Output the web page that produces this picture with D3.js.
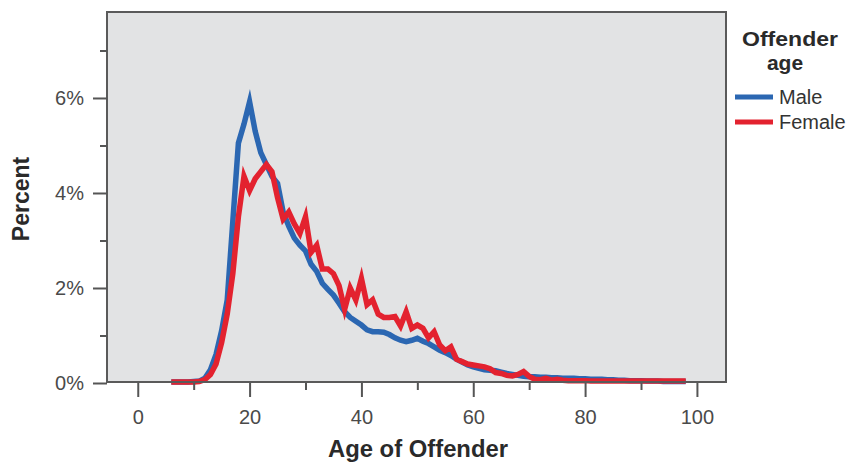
<!DOCTYPE html>
<html>
<head>
<meta charset="utf-8">
<script src="https://cdn.jsdelivr.net/npm/d3@7"></script>
<style>
  html, body { margin: 0; padding: 0; background: #fff; }
  svg { display: block; font-family: "Liberation Sans", Arial, sans-serif; }
</style>
</head>
<body>
<svg id="chart" width="848" height="463"></svg>
<script>
// Ages of offenders (years)
const ages = d3.range(6, 99);

// Percent of male offenders at each age
const maleValues = [
  0.02, 0.02, 0.02, 0.02, 0.03, 0.04,            // 6-11
  0.10, 0.28, 0.60, 1.10, 1.75, 3.40, 5.05, 5.45, // 12-19
  5.92, 5.30, 4.85, 4.60, 4.35, 4.20, 3.60, 3.30, 3.05, 2.90, // 20-29
  2.78, 2.50, 2.35, 2.10, 1.97, 1.85, 1.68, 1.50, 1.38, 1.30, // 30-39
  1.22, 1.12, 1.08, 1.08, 1.07, 1.02, 0.95, 0.90, 0.87, 0.90, // 40-49
  0.94, 0.88, 0.83, 0.76, 0.69, 0.64, 0.58, 0.50, 0.44, 0.38, // 50-59
  0.34, 0.31, 0.28, 0.27, 0.26, 0.23, 0.20, 0.18, 0.16, 0.14, // 60-69
  0.13, 0.13, 0.12, 0.12, 0.11, 0.11, 0.10, 0.10, 0.10, 0.09, // 70-79
  0.09, 0.08, 0.08, 0.08, 0.07, 0.07, 0.06, 0.06, 0.05, 0.05, // 80-89
  0.05, 0.04, 0.04, 0.04, 0.03, 0.03, 0.03, 0.03, 0.03        // 90-98
];

// Percent of female offenders at each age
const femaleValues = [
  0.02, 0.02, 0.02, 0.02, 0.02, 0.03,            // 6-11
  0.07, 0.18, 0.40, 0.85, 1.45, 2.30, 3.50, 4.35, // 12-19
  4.05, 4.30, 4.45, 4.60, 4.45, 3.90, 3.45, 3.60, 3.35, 3.15, // 20-29
  3.50, 2.75, 2.90, 2.40, 2.40, 2.30, 2.05, 1.55, 2.00, 1.75, // 30-39
  2.20, 1.65, 1.75, 1.45, 1.38, 1.38, 1.40, 1.20, 1.50, 1.15, // 40-49
  1.22, 1.15, 0.95, 1.08, 0.80, 0.68, 0.76, 0.50, 0.45, 0.40, // 50-59
  0.38, 0.36, 0.34, 0.30, 0.22, 0.20, 0.16, 0.15, 0.18, 0.24, // 60-69
  0.14, 0.08, 0.07, 0.10, 0.06, 0.08, 0.06, 0.05, 0.05, 0.05, // 70-79
  0.05, 0.04, 0.04, 0.04, 0.04, 0.04, 0.04, 0.04, 0.04, 0.04, // 80-89
  0.04, 0.04, 0.04, 0.04, 0.04, 0.04, 0.04, 0.04, 0.04        // 90-98
];

const xTicks = [0, 20, 40, 60, 80, 100];
const xMinorTicks = [10, 30, 50, 70, 90];
const yTicks = [0, 2, 4, 6];
const yMinorTicks = [1, 3, 5, 7];

const seriesNames = ["Male", "Female"];
const seriesColors = ["#2b67b2", "#e3222f"];

const svg = d3.select("#chart");

const plot = { left: 107, right: 726, top: 12, bottom: 383 };

const x = d3.scaleLinear().domain([-5.5, 105.2]).range([plot.left, plot.right]);
const y = d3.scaleLinear().domain([0, 7.81]).range([plot.bottom, plot.top]);

// Plot background
svg.append("rect")
  .attr("x", plot.left).attr("y", plot.top)
  .attr("width", plot.right - plot.left).attr("height", plot.bottom - plot.top)
  .attr("fill", "#e2e3e4");

// Series lines
const line = d3.line()
  .x(d => x(d.age))
  .y(d => y(d.value));

const series = [maleValues, femaleValues].map((vals, i) => ({
  name: seriesNames[i],
  color: seriesColors[i],
  points: ages.map((a, j) => ({ age: a, value: vals[j] }))
}));

svg.append("g").selectAll("path")
  .data(series)
  .join("path")
  .attr("d", d => line(d.points))
  .attr("fill", "none")
  .attr("stroke", d => d.color)
  .attr("stroke-width", 5.5)
  .attr("stroke-linejoin", "miter")
  .attr("stroke-miterlimit", 10);

// Frame around plot
svg.append("rect")
  .attr("x", plot.left).attr("y", plot.top)
  .attr("width", plot.right - plot.left).attr("height", plot.bottom - plot.top - 1)
  .attr("fill", "none")
  .attr("stroke", "#5a5a5a")
  .attr("stroke-width", 2);

const tickColor = "#555";
const labelColor = "#4a4a4a";

// Y axis
const yAxis = svg.append("g")
  .attr("transform", `translate(${plot.left},0)`)
  .call(d3.axisLeft(y).tickValues(yTicks).tickSize(14).tickPadding(9)
    .tickFormat(d => d + "%"));
yAxis.select(".domain").remove();
yAxis.selectAll(".tick line").attr("stroke", tickColor).attr("stroke-width", 2);
yAxis.selectAll(".tick text")
  .attr("fill", labelColor)
  .attr("font-size", 20)
  .attr("font-family", "Liberation Sans, Arial, sans-serif");

const yMinor = svg.append("g")
  .attr("transform", `translate(${plot.left},0)`)
  .call(d3.axisLeft(y).tickValues(yMinorTicks).tickSize(7).tickFormat(""));
yMinor.select(".domain").remove();
yMinor.selectAll(".tick line").attr("stroke", tickColor).attr("stroke-width", 2);

// X axis
const xAxis = svg.append("g")
  .attr("transform", `translate(0,${plot.bottom})`)
  .call(d3.axisBottom(x).tickValues(xTicks).tickSize(14).tickPadding(13));
xAxis.select(".domain").remove();
xAxis.selectAll(".tick line").attr("stroke", tickColor).attr("stroke-width", 2);
xAxis.selectAll(".tick text")
  .attr("fill", labelColor)
  .attr("font-size", 20)
  .attr("font-family", "Liberation Sans, Arial, sans-serif");

const xMinor = svg.append("g")
  .attr("transform", `translate(0,${plot.bottom})`)
  .call(d3.axisBottom(x).tickValues(xMinorTicks).tickSize(7).tickFormat(""));
xMinor.select(".domain").remove();
xMinor.selectAll(".tick line").attr("stroke", tickColor).attr("stroke-width", 2);

// Axis titles
svg.append("text")
  .attr("x", 418)
  .attr("y", 457)
  .attr("text-anchor", "middle")
  .attr("font-size", 23)
  .attr("font-weight", "bold")
  .attr("fill", "#2a2a2a")
  .attr("textLength", 180)
  .attr("lengthAdjust", "spacingAndGlyphs")
  .text("Age of Offender");

svg.append("text")
  .attr("transform", "translate(29,199) rotate(-90)")
  .attr("text-anchor", "middle")
  .attr("font-size", 23)
  .attr("font-weight", "bold")
  .attr("fill", "#2a2a2a")
  .text("Percent");

// Legend
const legend = svg.append("g");
legend.append("text")
  .attr("x", 790).attr("y", 46)
  .attr("text-anchor", "middle")
  .attr("font-size", 21).attr("font-weight", "bold").attr("fill", "#2a2a2a")
  .attr("textLength", 96)
  .attr("lengthAdjust", "spacingAndGlyphs")
  .text("Offender");
legend.append("text")
  .attr("x", 785).attr("y", 70)
  .attr("text-anchor", "middle")
  .attr("font-size", 21).attr("font-weight", "bold").attr("fill", "#2a2a2a")
  .text("age");

const items = legend.selectAll("g.item")
  .data(series)
  .join("g")
  .attr("class", "item")
  .attr("transform", (d, i) => `translate(0,${97 + i * 25})`);
items.append("line")
  .attr("x1", 735).attr("x2", 773)
  .attr("stroke", d => d.color)
  .attr("stroke-width", 5);
items.append("text")
  .attr("x", 779).attr("y", 7)
  .attr("font-size", 20).attr("fill", "#333")
  .text(d => d.name);
</script>
</body>
</html>
